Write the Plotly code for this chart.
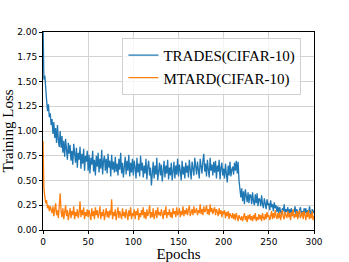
import plotly.graph_objects as go

epochs = list(range(0, 301))

trades = [
    2.10, 1.52, 1.56, 1.38, 1.31, 1.20, 1.27, 1.14, 1.18, 1.06,
    1.12, 0.97, 1.09, 0.93, 1.03, 0.88, 1.06, 0.91, 0.84, 1.00,
    0.83, 0.95, 0.78, 0.90, 0.74, 0.92, 0.81, 0.71, 0.88, 0.77,
    0.86, 0.70, 0.80, 0.66, 0.87, 0.73, 0.68, 0.83, 0.63, 0.78,
    0.71, 0.84, 0.62, 0.77, 0.67, 0.82, 0.60, 0.75, 0.69, 0.80,
    0.60, 0.76, 0.57, 0.73, 0.66, 0.80, 0.59, 0.71, 0.55, 0.75,
    0.64, 0.78, 0.58, 0.72, 0.62, 0.81, 0.56, 0.70, 0.75, 0.60,
    0.72, 0.57, 0.77, 0.63, 0.70, 0.54, 0.76, 0.61, 0.69, 0.58,
    0.74, 0.59, 0.67, 0.55, 0.72, 0.61, 0.78, 0.57, 0.68, 0.53,
    0.66, 0.74, 0.56, 0.70, 0.60, 0.76, 0.54, 0.68, 0.58, 0.72,
    0.55, 0.70, 0.63, 0.52, 0.73, 0.58, 0.67, 0.54, 0.75, 0.60,
    0.68, 0.53, 0.65, 0.57, 0.72, 0.51, 0.64, 0.70, 0.55, 0.63,
    0.45, 0.61, 0.69, 0.52, 0.65, 0.56, 0.73, 0.50, 0.63, 0.68,
    0.55, 0.66, 0.49, 0.62, 0.70, 0.53, 0.65, 0.57, 0.71, 0.51,
    0.63, 0.55, 0.68, 0.50, 0.61, 0.69, 0.52, 0.65, 0.56, 0.72,
    0.54, 0.66, 0.60, 0.50, 0.70, 0.56, 0.64, 0.52, 0.68, 0.58,
    0.65, 0.53, 0.71, 0.58, 0.51, 0.69, 0.61, 0.55, 0.73, 0.59,
    0.56, 0.69, 0.62, 0.52, 0.72, 0.64, 0.57, 0.70, 0.77, 0.59,
    0.67, 0.54, 0.71, 0.61, 0.53, 0.73, 0.60, 0.66, 0.55, 0.69,
    0.58, 0.70, 0.52, 0.65, 0.59, 0.71, 0.51, 0.63, 0.68, 0.55,
    0.62, 0.52, 0.67, 0.57, 0.48, 0.65, 0.55, 0.69, 0.54, 0.61,
    0.64, 0.56, 0.68, 0.60, 0.70, 0.57, 0.69, 0.50, 0.40, 0.33,
    0.42, 0.29, 0.39, 0.26, 0.41, 0.33, 0.28, 0.38, 0.27, 0.36,
    0.35, 0.26, 0.38, 0.29, 0.25, 0.36, 0.27, 0.37, 0.24, 0.32,
    0.31, 0.24, 0.35, 0.26, 0.22, 0.32, 0.27, 0.21, 0.31, 0.25,
    0.27, 0.20, 0.30, 0.23, 0.26, 0.19, 0.28, 0.22, 0.25, 0.18,
    0.24, 0.17, 0.23, 0.20, 0.15, 0.22, 0.19, 0.26, 0.16, 0.21,
    0.18, 0.23, 0.15, 0.21, 0.17, 0.22, 0.14, 0.20, 0.18, 0.24,
    0.16, 0.21, 0.17, 0.13, 0.20, 0.23, 0.16, 0.19, 0.14, 0.22,
    0.17, 0.22, 0.14, 0.20, 0.16, 0.24, 0.18, 0.13, 0.21, 0.17, 0.20,
]

mtard = [
    0.90, 0.42, 0.34, 0.27, 0.30, 0.22, 0.25, 0.19, 0.24, 0.21,
    0.17, 0.24, 0.14, 0.21, 0.27, 0.15, 0.20, 0.12, 0.23, 0.37,
    0.19, 0.13, 0.22, 0.11, 0.18, 0.25, 0.14, 0.20, 0.10, 0.17,
    0.22, 0.12, 0.19, 0.15, 0.24, 0.11, 0.18, 0.14, 0.21, 0.12,
    0.17, 0.29, 0.13, 0.20, 0.15, 0.23, 0.11, 0.18, 0.14, 0.21,
    0.13, 0.20, 0.16, 0.10, 0.22, 0.14, 0.19, 0.11, 0.23, 0.15,
    0.20, 0.12, 0.17, 0.24, 0.11, 0.18, 0.14, 0.21, 0.10, 0.17,
    0.22, 0.13, 0.19, 0.12, 0.20, 0.15, 0.31, 0.11, 0.18, 0.14,
    0.21, 0.10, 0.17, 0.23, 0.12, 0.19, 0.15, 0.11, 0.22, 0.14,
    0.18, 0.12, 0.21, 0.15, 0.10, 0.20, 0.14, 0.23, 0.11, 0.17,
    0.14, 0.21, 0.11, 0.19, 0.15, 0.22, 0.10, 0.17, 0.13, 0.20,
    0.15, 0.23, 0.12, 0.18, 0.11, 0.21, 0.14, 0.17, 0.25, 0.12,
    0.18, 0.13, 0.22, 0.11, 0.17, 0.20, 0.12, 0.23, 0.15, 0.18,
    0.14, 0.21, 0.16, 0.11, 0.20, 0.15, 0.24, 0.12, 0.18, 0.15,
    0.21, 0.13, 0.18, 0.12, 0.22, 0.16, 0.19, 0.13, 0.23, 0.15,
    0.17, 0.22, 0.13, 0.19, 0.15, 0.24, 0.14, 0.20, 0.16, 0.22,
    0.15, 0.20, 0.25, 0.14, 0.19, 0.21, 0.15, 0.24, 0.17, 0.20,
    0.22, 0.15, 0.20, 0.17, 0.26, 0.16, 0.21, 0.15, 0.24, 0.18,
    0.20, 0.25, 0.16, 0.21, 0.15, 0.26, 0.18, 0.22, 0.16, 0.20,
    0.23, 0.15, 0.21, 0.18, 0.14, 0.22, 0.16, 0.20, 0.13, 0.19,
    0.16, 0.20, 0.12, 0.18, 0.14, 0.19, 0.11, 0.17, 0.15, 0.12,
    0.17, 0.11, 0.16, 0.10, 0.17, 0.13, 0.09, 0.15, 0.12, 0.10,
    0.14, 0.09, 0.13, 0.17, 0.10, 0.14, 0.08, 0.15, 0.11, 0.16,
    0.10, 0.14, 0.09, 0.15, 0.11, 0.17, 0.09, 0.13, 0.10, 0.16,
    0.11, 0.15, 0.09, 0.17, 0.12, 0.10, 0.16, 0.11, 0.18, 0.13,
    0.15, 0.10, 0.14, 0.19, 0.11, 0.17, 0.12, 0.20, 0.14, 0.11,
    0.17, 0.12, 0.18, 0.10, 0.15, 0.20, 0.13, 0.11, 0.18, 0.14,
    0.12, 0.19, 0.13, 0.17, 0.10, 0.18, 0.14, 0.21, 0.12, 0.16,
    0.13, 0.19, 0.11, 0.17, 0.20, 0.12, 0.15, 0.18, 0.11, 0.19,
    0.15, 0.10, 0.18, 0.13, 0.20, 0.11, 0.16, 0.12, 0.19, 0.10, 0.14,
]

series_names = ["TRADES(CIFAR-10)", "MTARD(CIFAR-10)"]
x_ticks = [0, 50, 100, 150, 200, 250, 300]
y_ticks = [0.0, 0.25, 0.5, 0.75, 1.0, 1.25, 1.5, 1.75, 2.0]

fig = go.Figure()
fig.add_trace(go.Scatter(x=epochs, y=trades, mode="lines", name=series_names[0],
                         line=dict(color="#1f77b4", width=1.3)))
fig.add_trace(go.Scatter(x=epochs, y=mtard, mode="lines", name=series_names[1],
                         line=dict(color="#ff7f0e", width=1.3)))

axis_common = dict(
    showline=True, linecolor="black", linewidth=1, mirror=True,
    ticks="outside", ticklen=3, tickcolor="black",
    showgrid=True, gridcolor="#d3d3d3", gridwidth=1,
    zeroline=False, automargin=False,
    tickfont=dict(family="DejaVu Sans", size=9, color="black"),
)

fig.update_layout(
    width=349, height=262,
    margin=dict(l=43, r=35, t=32, b=32),
    paper_bgcolor="white", plot_bgcolor="white",
    xaxis=dict(range=[0, 300], tickvals=x_ticks,
               title=dict(text="Epochs", font=dict(family="Liberation Serif", size=15, color="black"), standoff=1),
               **axis_common),
    yaxis=dict(range=[0, 2.0], tickvals=y_ticks, tickformat=".2f",
               title=dict(text="Training Loss", font=dict(family="Liberation Serif", size=15, color="black"), standoff=3),
               **axis_common),
    legend=dict(x=0.293, y=0.97, xanchor="left", yanchor="top",
                bgcolor="rgba(255,255,255,0.8)", bordercolor="#d0d0d0", borderwidth=1,
                font=dict(family="Liberation Serif", size=15, color="black"),
                tracegroupgap=0, itemwidth=30),
    showlegend=True,
)

fig.write_html("out.html", config={"displayModeBar": False},
               post_script="document.body.style.margin='0';document.body.style.padding='0';")
